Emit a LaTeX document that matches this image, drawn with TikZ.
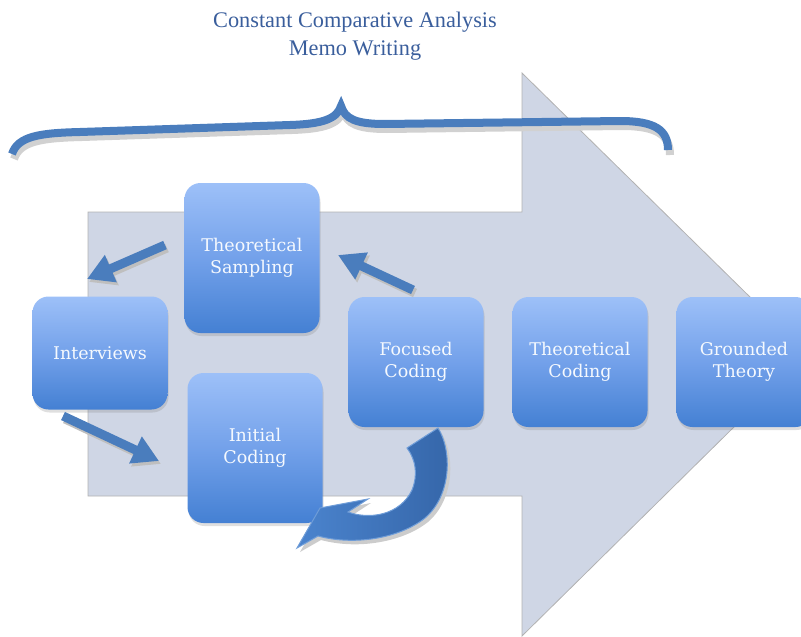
\documentclass[tikz,border=0pt]{standalone}
\usepackage{fontspec}
\setmainfont{Liberation Serif}
\newfontfamily\stagefont{DejaVu Serif}
\usetikzlibrary{arrows.meta}
\usetikzlibrary{shadows}

\definecolor{arrowgrey}{HTML}{CFD6E5}
\definecolor{stagetop}{HTML}{9DC0F8}
\definecolor{stagemid}{HTML}{73A1EA}
\definecolor{stagebot}{HTML}{4480D3}
\definecolor{linkblue}{HTML}{4A7DBD}
\definecolor{titleblue}{HTML}{3A5E9C}
\definecolor{curvelight}{HTML}{4B84CE}
\definecolor{curvedark}{HTML}{3566A9}

\tikzset{
  stage/.style={rounded corners=16pt, minimum width=135pt, minimum height=130pt,
    top color=stagetop, bottom color=stagebot, middle color=stagemid,
    text=white!90!stagetop, align=center,
    font=\stagefont\fontsize{17.5}{22.5}\selectfont,
    drop shadow={shadow xshift=1pt, shadow yshift=-3pt, opacity=.25}},
  link/.style={draw=linkblue, line width=9pt, -{Triangle[length=26pt,width=28pt]}},
  curve shadow/.style={fill=black!20, shift={(3,4)}},
  curve body/.style={left color=curvelight, right color=curvedark,
    draw=curvelight!80!white, line width=1pt},
}

\begin{document}
\begin{tikzpicture}[x=1pt, y=-1pt]
  \useasboundingbox (0,0) rectangle (801,637);

  % the big grey process arrow
  \draw[fill=arrowgrey, draw=black!30, line width=.8pt]
    (88,212) -- (522,212) -- (522,73) -- (808,354) -- (522,636) -- (522,496) -- (88,496) -- cycle;

  % heading and curly brace
  \node[text=titleblue, align=center, font=\fontsize{22.3}{28}\selectfont] (title) at (355,36)
    {Constant Comparative Analysis\\Memo Writing};
  \foreach \dx/\dy/\col in {2/5/black!18, 0/0/linkblue}
    \draw[draw=\col, line width=8pt, shift={(\dx,\dy)}]
      (12,154) .. controls (18,136) and (40,133) .. (80,132) -- (290,125)
      .. controls (322,124) and (337,119) .. (341,106)
      .. controls (345,119) and (356,124) .. (385,124) -- (620,121)
      .. controls (655,121) and (668,130) .. (668,150);

  % stages
  \node[stage, minimum height=113pt] (interviews) at (100,353) {Interviews};
  \node[stage, minimum height=150pt] (sampling) at (252,258) {Theoretical\\Sampling};
  \node[stage, minimum height=150pt] (initial) at (255,448) {Initial\\Coding};
  \node[stage] (focused) at (416,362) {Focused\\Coding};
  \node[stage] (theocoding) at (580,362) {Theoretical\\Coding};
  \node[stage] (grounded) at (744,362) {Grounded\\Theory};

  % loose ends of the straight arrows
  \coordinate (ts-a) at (165,245);
  \coordinate (ts-b) at (87,279);
  \coordinate (fc-a) at (413,290);
  \coordinate (fc-b) at (338,255);
  \coordinate (iv-a) at (63,416);
  \coordinate (iv-b) at (159,461);

  \foreach \from/\to in {ts-a/ts-b, fc-a/fc-b, iv-a/iv-b} {
    \draw[link, draw=black!25] ([shift={(2,3)}]\from) -- ([shift={(2,3)}]\to);
    \draw[link] (\from) -- (\to);
  }

  % curved arrow back to initial coding
  \foreach \sty in {curve shadow, curve body}
    \path[style/.expanded=\sty]
      (438,428) .. controls (452,450) and (452,495) .. (425,518)
      .. controls (400,538) and (355,546) .. (318,536)
      -- (297,548) -- (320,508) -- (368,499) -- (348,512)
      .. controls (370,520) and (400,515) .. (412,490)
      .. controls (418,475) and (416,460) .. (407,448) -- cycle;
\end{tikzpicture}
\end{document}
